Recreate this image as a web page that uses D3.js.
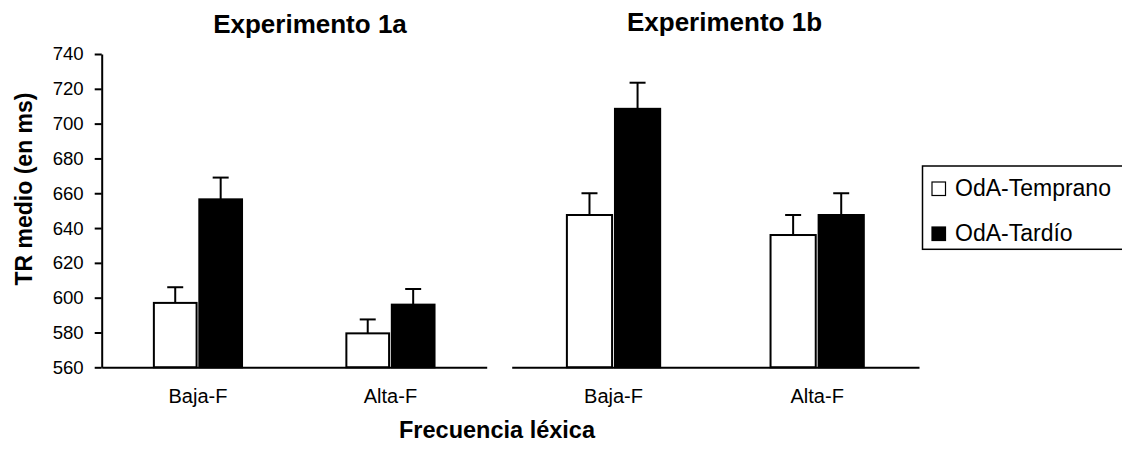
<!DOCTYPE html>
<html>
<head>
<meta charset="utf-8">
<script src="https://cdn.jsdelivr.net/npm/d3@7"></script>
<style>
  html, body { margin: 0; padding: 0; background: #fff; }
  svg { display: block; font-family: "Liberation Sans", Arial, sans-serif; }
</style>
</head>
<body>
<svg id="chart" width="1122" height="450"></svg>
<script>
// ---- data ----
const categories = ["Baja-F", "Alta-F"];
const series = ["OdA-Temprano", "OdA-Tardío"];
const panelTitles = ["Experimento 1a", "Experimento 1b"];
// means (ms) per panel: [Baja-F, Alta-F]
const exp1aTemprano = [597, 579.5];
const exp1aTardio   = [656.5, 596];
const exp1bTemprano = [647.5, 636];
const exp1bTardio   = [708.5, 647.5];
// error bar sizes (ms)
const exp1aTempranoErr = [9, 8];
const exp1aTardioErr   = [12.5, 9];
const exp1bTempranoErr = [12.5, 11.5];
const exp1bTardioErr   = [15, 12.5];
const yTicks = [560, 580, 600, 620, 640, 660, 680, 700, 720, 740];
const yDomain = [560, 740];
const yTitle = "TR medio (en ms)";
const xTitle = "Frecuencia léxica";

const svg = d3.select("#chart");
const y = d3.scaleLinear().domain(yDomain).range([367.3, 54]);

const panels = [
  { title: panelTitles[0], range: [101.7, 486.7], titleX: 310, titleY: 32.5,
    vals: [exp1aTemprano, exp1aTardio], errs: [exp1aTempranoErr, exp1aTardioErr], yAxis: true },
  { title: panelTitles[1], range: [511.7, 919], titleX: 724.5, titleY: 30.5,
    vals: [exp1bTemprano, exp1bTardio], errs: [exp1bTempranoErr, exp1bTardioErr], yAxis: false }
];

const fills = ["#fff", "#000"];

panels.forEach(p => {
  const x0 = d3.scaleBand().domain(categories).range(p.range).padding(0);
  const g = x0.step() * 0.458;
  const x1 = d3.scaleBand().domain(series).range([-g / 2, g / 2]).paddingInner(0.06);
  const grp = svg.append("g");

  // bars
  categories.forEach((c, ci) => {
    series.forEach((s, si) => {
      const v = p.vals[si][ci];
      const e = p.errs[si][ci];
      const cx = x0(c) + x0.bandwidth() / 2;
      const bx = cx + x1(s);
      const mid = bx + x1.bandwidth() / 2;
      // error bar
      grp.append("line")
        .attr("x1", mid).attr("x2", mid)
        .attr("y1", y(v)).attr("y2", y(v + e))
        .attr("stroke", "#000").attr("stroke-width", 2);
      grp.append("line")
        .attr("x1", mid - 8).attr("x2", mid + 8)
        .attr("y1", y(v + e)).attr("y2", y(v + e))
        .attr("stroke", "#000").attr("stroke-width", 2);
      grp.append("rect")
        .attr("x", bx).attr("width", x1.bandwidth())
        .attr("y", y(v)).attr("height", y(yDomain[0]) - y(v))
        .attr("fill", fills[si]).attr("stroke", "#000").attr("stroke-width", 2);
    });
  });

  // x axis
  const xa = grp.append("g")
    .attr("transform", `translate(0,${y(yDomain[0])})`)
    .call(d3.axisBottom(x0).tickSize(0).tickSizeOuter(0).tickPadding(21.5));
  xa.select(".domain").attr("stroke", "#000").attr("stroke-width", 2);
  xa.selectAll("text").attr("font-size", 20).attr("fill", "#000")
    .attr("font-family", "Liberation Sans, Arial, sans-serif");

  if (p.yAxis) {
    const ya = grp.append("g")
      .attr("transform", `translate(${p.range[0]},0)`)
      .call(d3.axisLeft(y).tickValues(yTicks).tickSize(7).tickSizeOuter(0).tickPadding(11).tickFormat(d3.format("d")));
    ya.select(".domain").attr("stroke", "#000").attr("stroke-width", 2);
    ya.selectAll(".tick line").attr("stroke", "#000").attr("stroke-width", 2);
    ya.selectAll("text").attr("font-size", 18.6).attr("fill", "#000")
      .attr("font-family", "Liberation Sans, Arial, sans-serif");
  }

  svg.append("text")
    .attr("x", p.titleX).attr("y", p.titleY)
    .attr("text-anchor", "middle")
    .attr("font-weight", "bold").attr("font-size", 26)
    .text(p.title);
});

// axis titles
svg.append("text")
  .attr("transform", "translate(32,189) rotate(-90)")
  .attr("text-anchor", "middle")
  .attr("font-weight", "bold").attr("font-size", 23)
  .text(yTitle);

svg.append("text")
  .attr("x", 497).attr("y", 438.3)
  .attr("text-anchor", "middle")
  .attr("font-weight", "bold").attr("font-size", 23.5)
  .text(xTitle);

// legend
const leg = svg.append("g");
leg.append("rect")
  .attr("x", 922.5).attr("y", 166).attr("width", 220).attr("height", 83.3)
  .attr("fill", "#fff").attr("stroke", "#000").attr("stroke-width", 1.5);
const legY = [195.5, 240.5];
series.forEach((s, i) => {
  leg.append("rect")
    .attr("x", 932).attr("y", legY[i] - 13.5).attr("width", 13.5).attr("height", 13.5)
    .attr("fill", fills[i]).attr("stroke", "#000").attr("stroke-width", 1.2);
  leg.append("text")
    .attr("x", 955).attr("y", legY[i])
    .attr("font-size", 23)
    .text(s);
});
</script>
</body>
</html>
